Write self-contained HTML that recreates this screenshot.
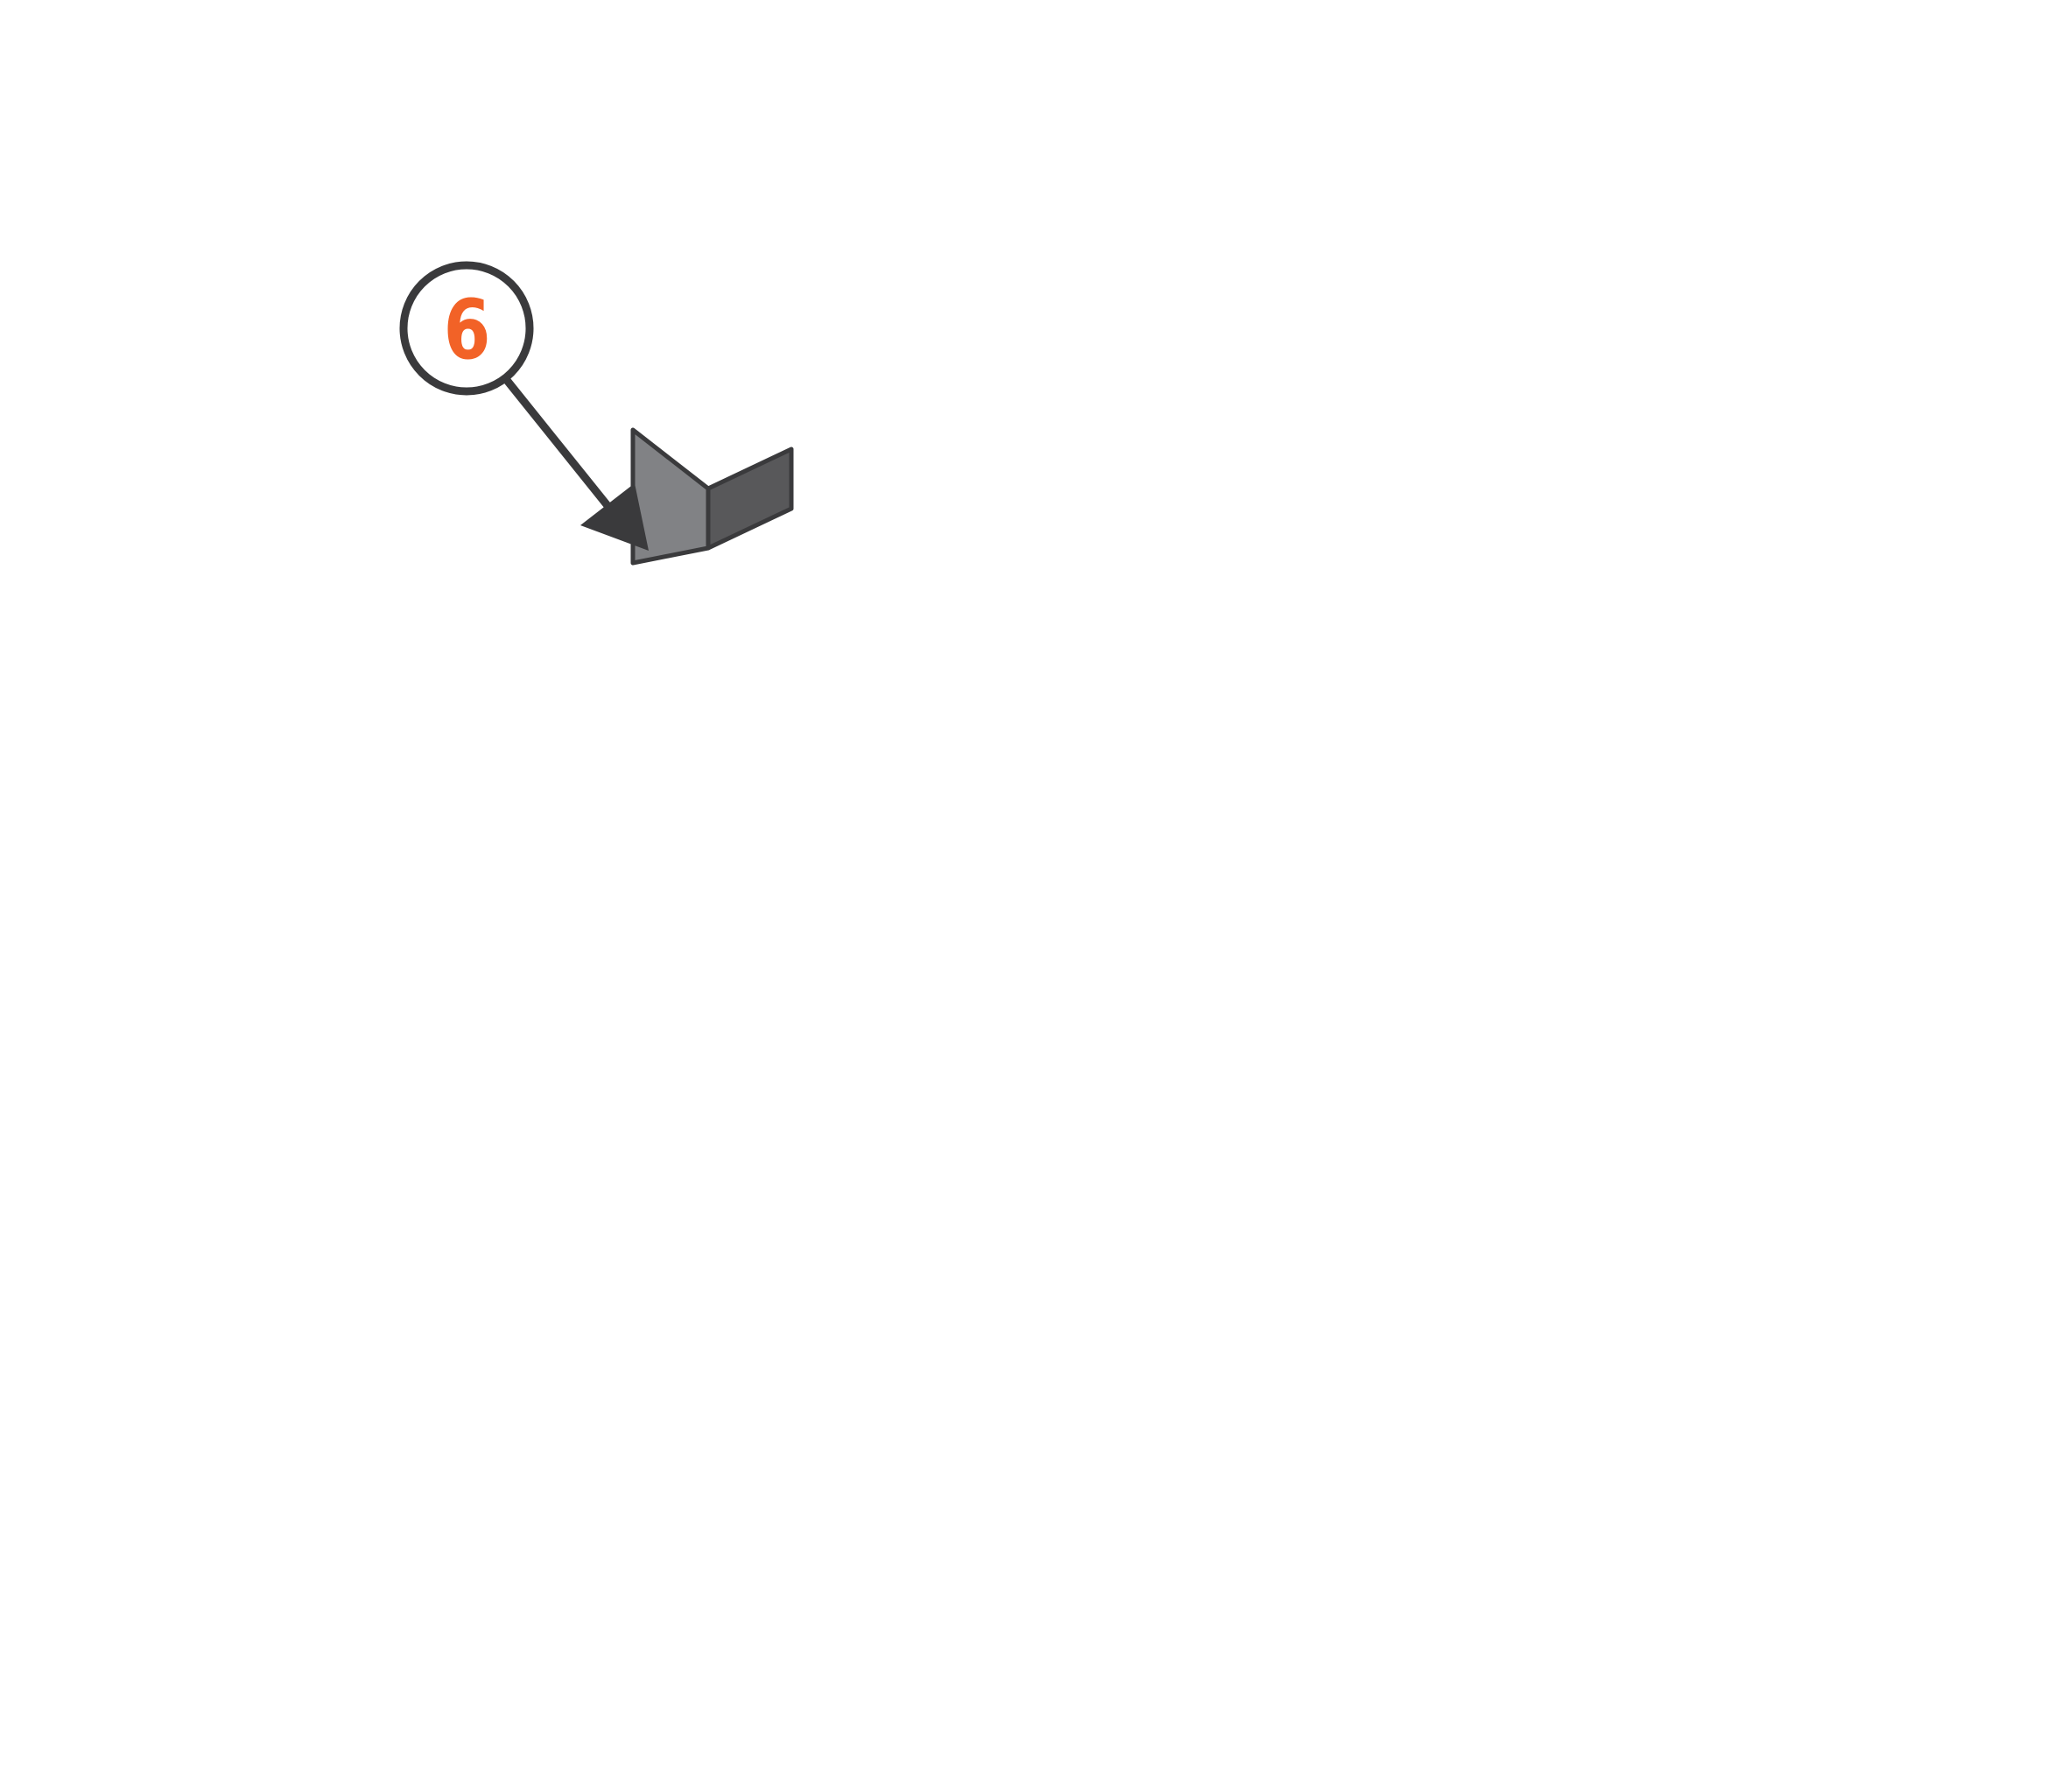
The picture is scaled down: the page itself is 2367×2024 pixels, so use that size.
<!DOCTYPE html>
<html><head><style>html,body{margin:0;padding:0;background:#fff;width:2367px;height:2024px;overflow:hidden}</style></head>
<body>
<svg width="2367" height="2024" viewBox="0 0 2367 2024" xmlns="http://www.w3.org/2000/svg">
<circle cx="533" cy="375" r="72" fill="#fff" stroke="#3a3a3c" stroke-width="9"/>
<text x="0" y="0" transform="translate(533.5,409) scale(0.82,1)" text-anchor="middle" font-family="DejaVu Sans, sans-serif" font-weight="bold" font-size="94" fill="#f26227">6</text>
<polygon points="723,491 809,558 809,626 723,643" fill="#818285" stroke="#3a3a3c" stroke-width="5" stroke-linejoin="round"/>
<polygon points="809,558 904,513 904,581 809,626" fill="#58585a" stroke="#3a3a3c" stroke-width="5" stroke-linejoin="round"/>
<line x1="578" y1="433" x2="700" y2="585" stroke="#3a3a3c" stroke-width="9"/>
<polygon points="663,600 725,552 741,629" fill="#3a3a3c"/>
</svg>
</body></html>
